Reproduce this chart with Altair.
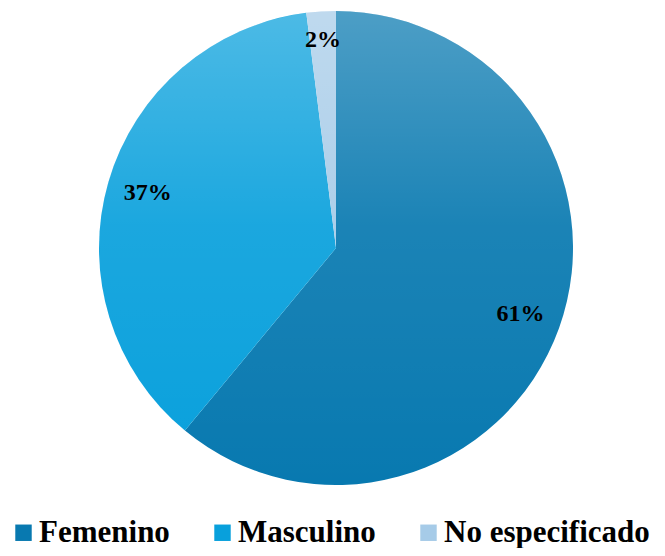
import altair as alt
import pandas as pd
import math

categories = ["Femenino", "Masculino", "No especificado"]
values = [61, 37, 2]
labels = ["61%", "37%", "2%"]
colors = ["#0879b0", "#08a0dc", "#a6cbe8"]

df = pd.DataFrame({"cat": categories, "value": values, "label": labels,
                   "idx": list(range(len(categories)))})

FONT = "Liberation Serif, Times New Roman, Times, serif"
CX, CY, R = 328, 240, 237

base = alt.Chart(df).encode(
    theta=alt.Theta("value:Q", stack=True),
    order=alt.Order("idx:Q"),
)

arcs = base.mark_arc(radius=R).encode(
    x=alt.value(CX), y=alt.value(CY),
    color=alt.Color(
        "cat:N",
        scale=alt.Scale(domain=categories, range=colors),
        sort=categories,
        legend=alt.Legend(
            title=None, orient="none", direction="horizontal",
            legendX=0, legendY=509, padding=0,
            symbolType="square", symbolSize=270, symbolStrokeWidth=0,
            symbolOpacity=1, labelOffset=0,
            labelFont=FONT, labelFontWeight="bold",
            labelFontSize=31, labelColor="black", columnPadding=37,
            labelLimit=400,
        ),
    ),
)

shade_df = pd.DataFrame({"k": [0]})
shade = alt.Chart(shade_df).mark_arc(
    radius=R,
    fill=alt.LinearGradient(
        gradient="linear", x1=0.5, y1=0, x2=0.5, y2=1,
        stops=[alt.GradientStop(color="rgba(255,255,255,0.28)", offset=0),
               alt.GradientStop(color="rgba(255,255,255,0.08)", offset=0.45),
               alt.GradientStop(color="rgba(255,255,255,0)", offset=1)],
    ),
).encode(x=alt.value(CX), y=alt.value(CY),
         theta=alt.value(0), theta2=alt.value(2 * math.pi))

text_main = base.transform_calculate(
    t="datum.cat == 'No especificado' ? '' : datum.label"
).mark_text(
    radius=196, font=FONT, fontWeight="bold", fontSize=24, color="black",
).encode(x=alt.value(CX), y=alt.value(CY), text="t:N")

text_small = base.transform_calculate(
    t="datum.cat == 'No especificado' ? datum.label : ''"
).mark_text(
    radius=208, font=FONT, fontWeight="bold", fontSize=24, color="black",
).encode(x=alt.value(CX), y=alt.value(CY), text="t:N")

chart = alt.layer(arcs, shade, text_main, text_small).properties(
    width=649, height=540, padding=0,
    autosize=alt.AutoSizeParams(type="none"),
).configure_view(stroke=None)

chart.save("out.html", embed_options={"renderer": "svg", "actions": False})
